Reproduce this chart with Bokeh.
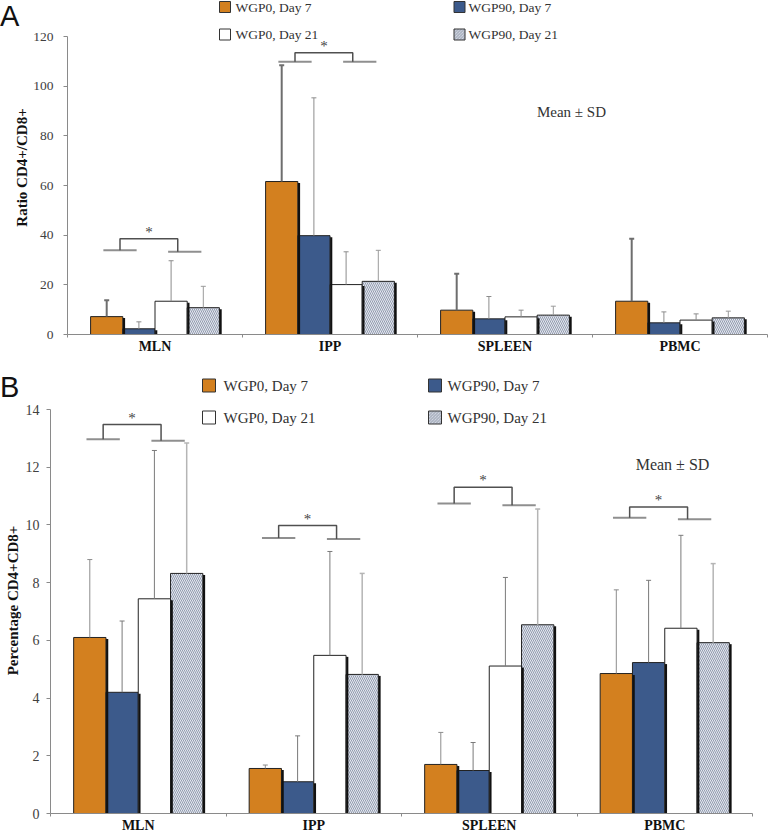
import numpy as np
from bokeh.plotting import figure
from bokeh.models import FixedTicker, Range1d, Div
from bokeh.core.properties import value
from bokeh.embed import file_html
from bokeh.resources import INLINE

# ---------------- data ----------------
categories = ["MLN", "IPP", "SPLEEN", "PBMC"]
series = ["WGP0, Day 7", "WGP90, Day 7", "WGP0, Day 21", "WGP90, Day 21"]

# Panel A: ratio CD4+/CD8+ (mean and SD)
ratio_wgp0_d7 = [7.2, 61.6, 9.8, 13.4]
ratio_wgp90_d7 = [2.3, 39.8, 6.3, 4.7]
ratio_wgp0_d21 = [13.4, 20.1, 7.1, 5.8]
ratio_wgp90_d21 = [10.8, 21.4, 7.8, 6.7]
ratio_sd_wgp0_d7 = [6.6, 46.8, 14.7, 25.2]
ratio_sd_wgp90_d7 = [2.8, 55.5, 9.0, 4.4]
ratio_sd_wgp0_d21 = [16.3, 13.2, 2.7, 2.5]
ratio_sd_wgp90_d21 = [8.6, 12.5, 3.6, 2.7]
ratio_ticks = [0, 20, 40, 60, 80, 100, 120]
# significance: (category, left line level, right line level, bracket top)
ratio_sig = [("MLN", 33.9, 33.3, 38.6), ("IPP", 109.8, 109.8, 113.5)]

# Panel B: percentage CD4+CD8+ (mean and SD)
pct_wgp0_d7 = [6.10, 1.56, 1.70, 4.85]
pct_wgp90_d7 = [4.20, 1.10, 1.49, 5.23]
pct_wgp0_d21 = [7.44, 5.48, 5.11, 6.42]
pct_wgp90_d21 = [8.32, 4.82, 6.54, 5.92]
pct_sd_wgp0_d7 = [2.70, 0.12, 1.11, 2.90]
pct_sd_wgp90_d7 = [2.47, 1.59, 0.97, 2.85]
pct_sd_wgp0_d21 = [5.14, 3.60, 3.07, 3.22]
pct_sd_wgp90_d21 = [4.52, 3.50, 4.01, 2.74]
pct_ticks = [0, 2, 4, 6, 8, 10, 12, 14]
pct_sig = [("MLN", 12.97, 12.92, 13.48), ("IPP", 9.55, 9.51, 9.98),
           ("SPLEEN", 10.74, 10.68, 11.31), ("PBMC", 10.25, 10.20, 10.62)]

# ---------------- style ----------------
SERIF = "Liberation Serif"
SANS = "Liberation Sans"
FILLS = ["#D3801F", "#3C5A8B", "#FFFFFF", "#E3E7EF"]
HATCHES = [None, None, None, "left_diagonal_line"]
AXIS_COL = "#8a8a8a"
BAR_W = 0.184


def make_panel(means, sds, ticks, sig, ylabel, g):
    width, height = g["width"], g["height"]
    left, bottom = g["left"], g["bottom"]
    frame_w = width - left
    frame_h = height - bottom
    top_tick = ticks[-1]
    ppu_y = (frame_h - g["top_px"]) / top_tick
    y_end = frame_h / ppu_y
    ppu_x = g["axis_px"] / len(categories)
    x_end = frame_w / ppu_x

    def fx(px):  # figure pixel -> data x
        return (px - left) / ppu_x

    def fy(py):  # figure pixel (from top) -> data y
        return (frame_h - py) / ppu_y

    p = figure(width=width, height=height, output_backend="svg", toolbar_location=None,
               x_range=Range1d(0, x_end), y_range=Range1d(0, y_end),
               min_border_left=left, min_border_right=0, min_border_top=0,
               min_border_bottom=bottom)
    p.outline_line_color = None
    p.xgrid.visible = False
    p.ygrid.visible = False
    p.background_fill_color = "white"
    p.border_fill_color = "white"

    # ---- axes ----
    ya = p.yaxis[0]
    ya.ticker = FixedTicker(ticks=ticks)
    ya.bounds = (0, top_tick)
    ya.axis_line_color = AXIS_COL
    ya.major_tick_line_color = AXIS_COL
    ya.major_tick_out = 4
    ya.major_tick_in = 0
    ya.minor_tick_out = 0
    ya.minor_tick_in = 0
    ya.major_label_text_font = SERIF
    ya.major_label_text_font_size = g["tick_font"]
    ya.major_label_text_color = "#404040"
    ya.major_label_standoff = g["tick_standoff"]
    ya.axis_label = ylabel + "\u00a0" * g["ylab_pad"]
    ya.axis_label_text_font = SERIF
    ya.axis_label_text_font_style = "bold"
    ya.axis_label_text_font_size = "15px"
    ya.axis_label_text_color = "#111111"
    ya.axis_label_standoff = g["ylab_standoff"]

    xa = p.xaxis[0]
    centers = [i + 0.5 for i in range(len(categories))]
    xa.ticker = FixedTicker(ticks=centers, minor_ticks=list(range(len(categories) + 1)))
    xa.major_label_overrides = {c: cat for c, cat in zip(centers, categories)}
    xa.bounds = (0, len(categories))
    xa.axis_line_color = AXIS_COL
    xa.major_tick_out = 0
    xa.major_tick_in = 0
    xa.minor_tick_out = 3
    xa.minor_tick_in = 0
    xa.minor_tick_line_color = AXIS_COL
    xa.major_label_text_font = SERIF
    xa.major_label_text_font_style = "bold"
    xa.major_label_text_font_size = "14px"
    xa.major_label_text_color = "#111111"
    xa.major_label_standoff = 1

    # ---- bars ----
    n = len(series)
    for j in range(n):
        xs = [c + (j - (n - 1) / 2) * BAR_W for c in centers]
        kw = dict(fill_color=FILLS[j], line_color="#222222", line_width=1)
        if HATCHES[j]:
            kw.update(hatch_pattern=HATCHES[j], hatch_color="#7f899e",
                      hatch_scale=4, hatch_weight=0.8)
        p.vbar(x=xs, width=BAR_W, top=means[j], bottom=0, **kw)
    # bar shadows (right edge)
    for j in range(n):
        xs = [c + (j - (n - 1) / 2) * BAR_W for c in centers]
        p.vbar(x=[x + BAR_W / 2 + 1.2 / ppu_x for x in xs], width=2.2 / ppu_x,
               top=[v - 1.5 / ppu_y for v in means[j]], bottom=0,
               fill_color="#111111", line_color=None)
    # error whiskers (upper only)
    for j in range(n):
        xs = [c + (j - (n - 1) / 2) * BAR_W for c in centers]
        tops = [a + b for a, b in zip(means[j], sds[j])]
        col, lw = g["whisk"][j]
        p.segment(x0=xs, y0=means[j], x1=xs, y1=tops, line_color=col, line_width=lw)
        cap = 2.5 / ppu_x
        p.segment(x0=[x - cap for x in xs], y0=tops, x1=[x + cap for x in xs], y1=tops,
                  line_color=col, line_width=lw)

    # ---- significance brackets ----
    lc, rc, half = -0.20, 0.17, 0.095
    lv, rv = -0.20, 0.13
    hx0, hx1, hy0 = [], [], []
    bxs, bys, sx, sy = [], [], [], []
    for cat, l_lvl, r_lvl, top in sig:
        c = categories.index(cat) + 0.5
        hx0 += [c + lc - half, c + rc - half]
        hx1 += [c + lc + half, c + rc + half]
        hy0 += [l_lvl, r_lvl]
        bxs.append([c + lv, c + lv, c + rv, c + rv])
        bys.append([l_lvl, top, top, r_lvl])
        sx.append(c + (lv + rv) / 2)
        sy.append(top)
    p.segment(x0=hx0, y0=hy0, x1=hx1, y1=hy0, line_color="#8f8f8f", line_width=2)
    p.multi_line(xs=bxs, ys=bys, line_color="#505050", line_width=1.5)
    p.text(x=sx, y=sy, text=["*"] * len(sx), text_font=value(SERIF),
           text_font_size="15px", text_color="#444444", text_align="center",
           text_baseline="middle", y_offset=-7)

    # ---- legend ----
    lx, ly, tx = [], [], []
    for j in range(n):
        r, cidx = j // 2, j % 2
        lx.append(fx(g["leg_sq_px"][cidx]))
        ly.append(fy(g["leg_rows_py"][r]))
        tx.append(fx(g["leg_txt_px"][cidx]))
    for j in range(n):
        kw = dict(fill_color=FILLS[j], line_color="#333333", line_width=1)
        if HATCHES[j]:
            kw.update(hatch_pattern=HATCHES[j], hatch_color="#7f899e",
                      hatch_scale=3, hatch_weight=0.7)
        p.scatter(x=[lx[j]], y=[ly[j]], marker="square", size=g["leg_sq"], **kw)
    p.text(x=tx, y=ly, text=series, text_font=value(SERIF),
           text_font_size=g["leg_font"], text_color="#333333",
           text_align="left", text_baseline="middle")

    # ---- Mean ± SD ----
    mx, my = g["meansd"]
    p.text(x=[fx(mx)], y=[fy(my)], text=["Mean \u00b1 SD"], text_font=value(SERIF),
           text_font_size=g["meansd_font"], text_color="#333333",
           text_align="center", text_baseline="middle")
    return p


def letter_div(letter, top):
    return Div(text=letter, width=30, height=34,
               styles={"position": "absolute", "left": "0px", "top": f"{top}px",
                       "font-family": SANS, "font-size": "29px", "line-height": "normal",
                       "color": "#111111", "margin": "0px", "padding": "0px"})


A_H = 357
geomA = dict(width=768, height=A_H, left=67, bottom=23, top_px=36, axis_px=700,
             tick_font="13.5px", tick_standoff=10, ylab_standoff=0, ylab_pad=0,
             whisk=[("#6e6e6e", 2), ("#8c8c8c", 1), ("#8c8c8c", 1), ("#9a9a9a", 1)],
             leg_rows_py=[6.5, 34], leg_sq_px=[224.5, 459], leg_txt_px=[235, 468],
             leg_sq=11, leg_font="13.5px", meansd=(571, 111), meansd_font="15px")
geomB = dict(width=768, height=479, left=50, bottom=23, top_px=409 - A_H, axis_px=702,
             tick_font="14px", tick_standoff=7, ylab_standoff=2, ylab_pad=8,
             whisk=[("#8c8c8c", 1), ("#7a7a7a", 1), ("#7a7a7a", 1), ("#b5b5b5", 1.5)],
             leg_rows_py=[385 - A_H, 417 - A_H], leg_sq_px=[208.5, 434.5],
             leg_txt_px=[223, 447], leg_sq=13, leg_font="15px",
             meansd=(672, 464 - A_H), meansd_font="16px")

pA = make_panel([ratio_wgp0_d7, ratio_wgp90_d7, ratio_wgp0_d21, ratio_wgp90_d21],
                [ratio_sd_wgp0_d7, ratio_sd_wgp90_d7, ratio_sd_wgp0_d21, ratio_sd_wgp90_d21],
                ratio_ticks, ratio_sig, "Ratio CD4+/CD8+", geomA)
pB = make_panel([pct_wgp0_d7, pct_wgp90_d7, pct_wgp0_d21, pct_wgp90_d21],
                [pct_sd_wgp0_d7, pct_sd_wgp90_d7, pct_sd_wgp0_d21, pct_sd_wgp90_d21],
                pct_ticks, pct_sig, "Percentage CD4+CD8+", geomB)

divA = letter_div("A", 0)
divB = letter_div("B", 371)

open("out.html", "w").write(file_html([pA, pB, divA, divB], INLINE))
